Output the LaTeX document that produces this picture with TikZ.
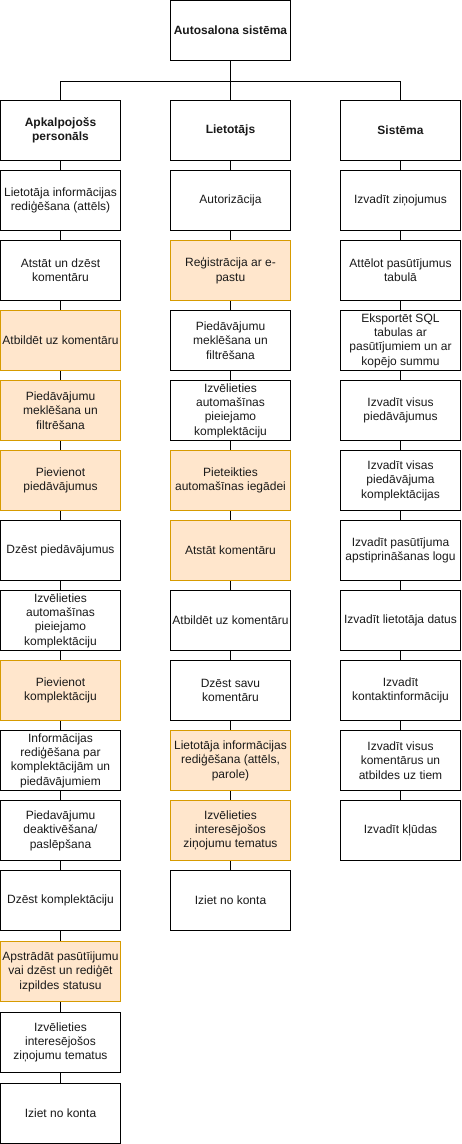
\documentclass[tikz,border=0pt]{standalone}
\usepackage{fontspec}
\setmainfont{Liberation Sans}
\definecolor{ofill}{HTML}{FFE6CC}
\definecolor{oline}{HTML}{D79B00}
\definecolor{txt}{HTML}{1A1A1A}
\begin{document}
\begin{tikzpicture}[x=1pt,y=-1pt,
  box/.style={draw=black, line width=1pt, fill=white, rectangle, minimum width=120pt, minimum height=60pt,
    inner sep=0pt, align=center, text=txt, font=\fontsize{12}{14.4}\selectfont},
  hl/.style={box, fill=ofill, draw=oline},
  hd/.style={box, font=\fontsize{12}{14.4}\selectfont\bfseries},
  link/.style={draw=black, line width=1pt}]
\useasboundingbox (0,0) rectangle (461,1144);

% top
\node[hd] (top) at (230.5,30.5) {Autosalona sistēma};

% headers
\node[hd] (a0) at (60.5,130.5) {Apkalpojošs\\personāls};
\node[hd] (b0) at (230.5,130.5) {Lietotājs};
\node[hd] (c0) at (400.5,130.5) {Sistēma};

% left column
\node[box] (a1) at (60.5,200.5) {Lietotāja informācijas\\rediģēšana (attēls)};
\node[box] (a2) at (60.5,270.5) {Atstāt un dzēst\\komentāru};
\node[hl]  (a3) at (60.5,340.5) {Atbildēt uz komentāru};
\node[hl]  (a4) at (60.5,410.5) {Piedāvājumu\\meklēšana un\\filtrēšana};
\node[hl]  (a5) at (60.5,480.5) {Pievienot\\piedāvājumus};
\node[box] (a6) at (60.5,550.5) {Dzēst piedāvājumus};
\node[box] (a7) at (60.5,620.5) {Izvēlieties\\automašīnas\\pieiejamo\\komplektāciju};
\node[hl]  (a8) at (60.5,690.5) {Pievienot\\komplektāciju};
\node[box] (a9) at (60.5,760.5) {Informācijas\\rediģēšana par\\komplektācijām un\\piedāvājumiem};
\node[box] (a10) at (60.5,830.5) {Piedavājumu\\deaktivēšana/\\paslēpšana};
\node[box] (a11) at (60.5,900.5) {Dzēst komplektāciju};
\node[hl]  (a12) at (60.5,971.5) {Apstrādāt pasūtīijumu\\vai dzēst un rediģēt\\izpildes statusu};
\node[box] (a13) at (60.5,1042.5) {Izvēlieties\\interesējošos\\ziņojumu tematus};
\node[box] (a14) at (60.5,1113.5) {Iziet no konta};

% middle column
\node[box] (b1) at (230.5,200.5) {Autorizācija};
\node[hl]  (b2) at (230.5,270.5) {Reģistrācija ar e-\\pastu};
\node[box] (b3) at (230.5,340.5) {Piedāvājumu\\meklēšana un\\filtrēšana};
\node[box] (b4) at (230.5,410.5) {Izvēlieties\\automašīnas\\pieiejamo\\komplektāciju};
\node[hl]  (b5) at (230.5,480.5) {Pieteikties\\automašīnas iegādei};
\node[hl]  (b6) at (230.5,550.5) {Atstāt komentāru};
\node[box] (b7) at (230.5,620.5) {Atbildēt uz komentāru};
\node[box] (b8) at (230.5,690.5) {Dzēst savu\\komentāru};
\node[hl]  (b9) at (230.5,760.5) {Lietotāja informācijas\\rediģēšana (attēls,\\parole)};
\node[hl]  (b10) at (230.5,830.5) {Izvēlieties\\interesējošos\\ziņojumu tematus};
\node[box] (b11) at (230.5,900.5) {Iziet no konta};

% right column
\node[box] (c1) at (400.5,200.5) {Izvadīt ziņojumus};
\node[box] (c2) at (400.5,270.5) {Attēlot pasūtījumus\\tabulā};
\node[box] (c3) at (400.5,340.5) {Eksportēt SQL\\tabulas ar\\pasūtījumiem un ar\\kopējo summu};
\node[box] (c4) at (400.5,410.5) {Izvadīt visus\\piedāvājumus};
\node[box] (c5) at (400.5,480.5) {Izvadīt visas\\piedāvājuma\\komplektācijas};
\node[box] (c6) at (400.5,550.5) {Izvadīt pasūtījuma\\apstiprināšanas logu};
\node[box] (c7) at (400.5,620.5) {Izvadīt lietotāja datus};
\node[box] (c8) at (400.5,690.5) {Izvadīt\\kontaktinformāciju};
\node[box] (c9) at (400.5,760.5) {Izvadīt visus\\komentārus un\\atbildes uz tiem};
\node[box] (c10) at (400.5,830.5) {Izvadīt kļūdas};

% connectors from top
\draw[link] (top.south) -- ++(0,20) -| (a0.north);
\draw[link] (top.south) -- ++(0,20) -| (c0.north);
\draw[link] (top.south) -- (b0.north);

% column chains
\foreach \i [count=\j from 1] in {0,...,13} {
  \draw[link] (a\i.south) -- (a\j.north);
}
\foreach \i [count=\j from 1] in {0,...,10} {
  \draw[link] (b\i.south) -- (b\j.north);
}
\foreach \i [count=\j from 1] in {0,...,9} {
  \draw[link] (c\i.south) -- (c\j.north);
}
\end{tikzpicture}
\end{document}
